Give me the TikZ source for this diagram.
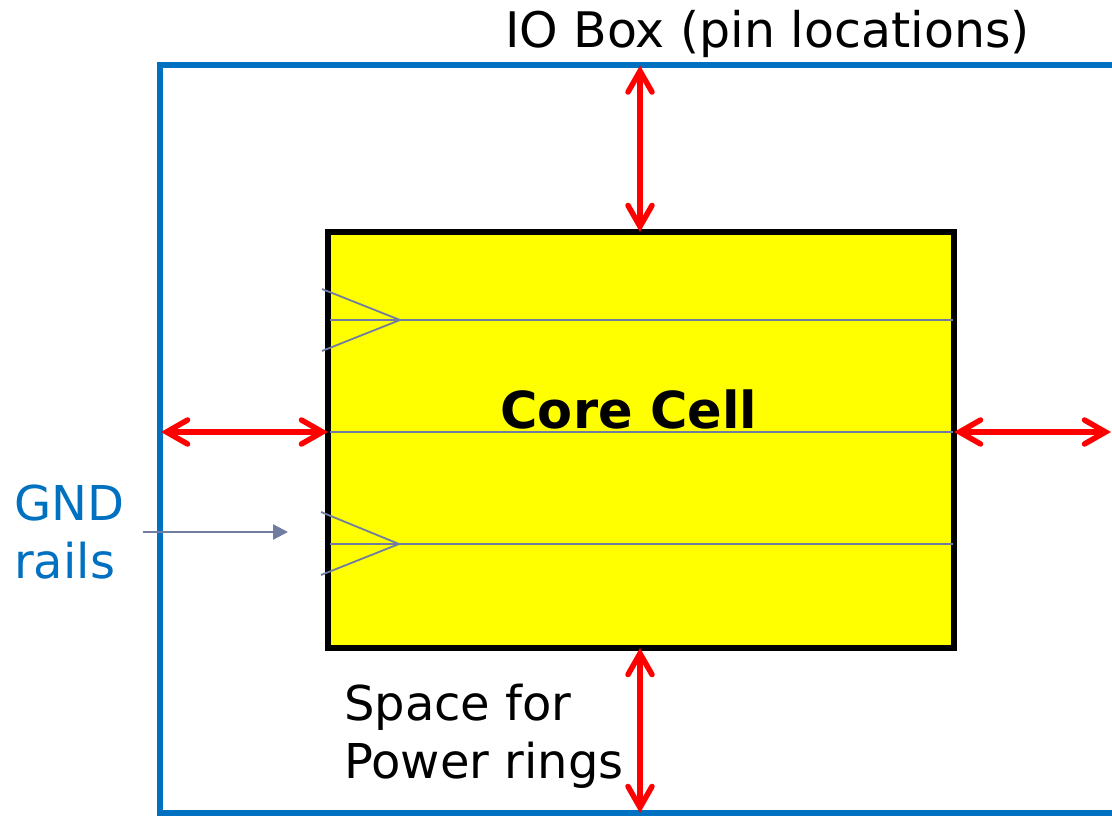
\documentclass[tikz,border=0pt]{standalone}
\usepackage{fontspec}
\setmainfont{DejaVu Sans}
\usetikzlibrary{arrows.meta}
\definecolor{ioblue}{RGB}{0,112,192}
\definecolor{railgray}{RGB}{112,125,160}
\definecolor{arrred}{RGB}{255,0,0}
\definecolor{coreyellow}{RGB}{255,255,0}
\tikzset{
  iobox/.style={draw=ioblue, line width=6pt, fill=none, outer sep=0pt},
  corebox/.style={draw=black, line width=5.5pt, fill=coreyellow, outer sep=0pt},
  rail/.style={draw=railgray, line width=1.8pt},
  gap/.style={draw=arrred, line width=5.5pt, {Straight Barb[length=21pt,width=24pt,line cap=round]}-{Straight Barb[length=21pt,width=24pt,line cap=round]}},
  pointer/.style={draw=railgray, line width=2.3pt, -{Triangle[length=15pt,width=15pt]}},
  lbl/.style={inner sep=0pt, font=\fontsize{48pt}{58pt}\selectfont},
}
\begin{document}
\begin{tikzpicture}[x=1pt,y=-1pt]
\useasboundingbox (0,0) rectangle (1112,816);
% IO box (extends beyond right edge)
\node[iobox, minimum width=970pt, minimum height=747.5pt, anchor=north west] (io) at (160,65.5) {};
% core cell
\node[corebox, minimum width=626pt, minimum height=416pt, anchor=north west] (core) at (328,232) {};
% rails
\coordinate (r1a) at (330,320); \coordinate (r1b) at (953,320);
\coordinate (r2a) at (330,432); \coordinate (r2b) at (953,432);
\coordinate (r3a) at (330,544); \coordinate (r3b) at (953,544);
\draw[rail] (r1a) -- (r1b);
\draw[rail] (r2a) -- (r2b);
\draw[rail] (r3a) -- (r3b);
\coordinate (t1u) at (322,289); \coordinate (t1p) at (400,320); \coordinate (t1d) at (322,351);
\coordinate (t2u) at (321,512); \coordinate (t2p) at (399,544); \coordinate (t2d) at (321,575);
\draw[rail] (t1u) -- (t1p) -- (t1d);
\draw[rail] (t2u) -- (t2p) -- (t2d);
% gap arrows
\coordinate (topA) at (640,65.5); \coordinate (topB) at (640,232);
\coordinate (botA) at (640,648); \coordinate (botB) at (640,813);
\coordinate (lefA) at (161,432); \coordinate (lefB) at (328,432);
\coordinate (rigA) at (954,432); \coordinate (rigB) at (1111,432);
\draw[gap] (topA) -- (topB);
\draw[gap] (botA) -- (botB);
\draw[gap] (lefA) -- (lefB);
\draw[gap] (rigA) -- (rigB);
% labels
\node[lbl, font=\fontsize{49pt}{58pt}\selectfont, anchor=base west] (iolbl) at (505,48) {IO Box (pin locations)};
\node[inner sep=0pt, font=\fontsize{51pt}{60pt}\selectfont\bfseries, anchor=base] (corelbl) at (629,428) {Core Cell};
\node[lbl, text=ioblue, align=left, anchor=base west] (gnd) at (14,578) {GND\\rails};
\node[lbl, align=left, anchor=base west] (space) at (344,778) {Space for\\Power rings};
\coordinate (gndA) at (143,532); \coordinate (gndB) at (288,532);
\draw[pointer] (gndA) -- (gndB);
\end{tikzpicture}
\end{document}
